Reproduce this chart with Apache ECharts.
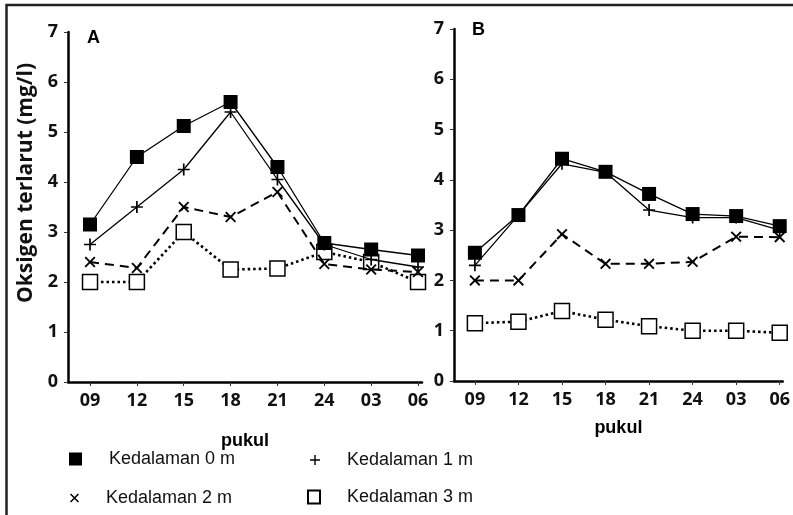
<!DOCTYPE html>
<html>
<head>
<meta charset="utf-8">
<script src="https://cdn.jsdelivr.net/npm/echarts@6/dist/echarts.min.js"></script>
<style>
    html, body { margin: 0; padding: 0; background: #fff; }
    #chart { width: 793px; height: 515px; }
</style>
</head>
<body>
<div id="chart"></div>
<script>
// jam pengamatan
var hours = ['09', '12', '15', '18', '21', '24', '03', '06'];
var yTicks = [0, 1, 2, 3, 4, 5, 6, 7];

// panel A
var k0A = [3.15, 4.5, 5.12, 5.6, 4.3, 2.78, 2.65, 2.53];
var k1A = [2.75, 3.5, 4.25, 5.4, 4.05, 2.75, 2.45, 2.3];
var k2A = [2.4, 2.28, 3.5, 3.3, 3.8, 2.36, 2.25, 2.2];
var k3A = [2.0, 2.0, 3.0, 2.25, 2.27, 2.6, 2.4, 2.0];

// panel B
var k0B = [2.55, 3.3, 4.42, 4.16, 3.72, 3.32, 3.28, 3.08];
var k1B = [2.3, 3.3, 4.32, 4.15, 3.4, 3.25, 3.25, 3.0];
var k2B = [2.0, 2.0, 2.92, 2.33, 2.33, 2.37, 2.87, 2.86];
var k3B = [1.15, 1.18, 1.39, 1.22, 1.09, 1.0, 1.0, 0.96];

var names = ['Kedalaman 0 m', 'Kedalaman 1 m', 'Kedalaman 2 m', 'Kedalaman 3 m'];

var PLUS = 'path://M0,4.3H10V5.7H0Z M4.3,0H5.7V10H4.3Z';
var CROSS = 'path://M0,1.2L1.2,0L10,8.8L8.8,10Z M8.8,0L10,1.2L1.2,10L0,8.8Z';

var idx = hours.map(function (h, i) { return i; });
function pts(arr) {
    return arr.map(function (v, i) { return [i, v]; });
}

var labelFont = { color: '#111', fontFamily: 'Open Sans', fontWeight: 'bold', fontSize: 18 };

function xAx(gi, min, max) {
    return {
        type: 'value', gridIndex: gi, min: min, max: max,
        name: 'pukul', nameLocation: 'middle', nameGap: gi === 0 ? 50 : 38,
        nameTextStyle: { color: '#000', fontFamily: 'Liberation Sans', fontWeight: 'bold', fontSize: 18 },
        axisLine: { onZero: false, lineStyle: { color: '#000', width: 2.5 } },
        axisTick: { show: true, customValues: idx, length: 4, lineStyle: { color: '#333', width: 1 } },
        axisLabel: Object.assign({ customValues: idx, margin: 10, formatter: function (v) { return hours[v]; } }, labelFont),
        splitLine: { show: false }
    };
}
function yAx(gi) {
    return {
        type: 'value', gridIndex: gi, min: 0, max: 7, interval: 1,
        axisLine: { show: true, onZero: false, lineStyle: { color: '#000', width: 2.5 } },
        axisTick: { show: true, length: 4, lineStyle: { color: '#333', width: 1 } },
        axisLabel: Object.assign({ margin: 10 }, labelFont),
        splitLine: { show: false }
    };
}

var styles = [
    { symbol: 'rect', symbolSize: 14, itemStyle: { color: '#000' }, lineStyle: { color: '#000', width: 1.3, type: 'solid' } },
    { symbol: PLUS, symbolSize: 12, itemStyle: { color: '#000' }, lineStyle: { color: '#000', width: 1.3, type: 'solid' } },
    { symbol: CROSS, symbolSize: 11, itemStyle: { color: '#000' }, lineStyle: { color: '#000', width: 2, type: [9, 6] } },
    { symbol: 'rect', symbolSize: 15, itemStyle: { color: '#fff', borderColor: '#000', borderWidth: 1.5 }, lineStyle: { color: '#000', width: 2.6, type: [2.5, 3] } }
];

function mk(name, k, data, gi) {
    var s = styles[k];
    return {
        name: name, type: 'line', xAxisIndex: gi, yAxisIndex: gi,
        data: pts(data), symbol: s.symbol, symbolSize: s.symbolSize,
        itemStyle: s.itemStyle, lineStyle: s.lineStyle,
        z: 10 - k, animation: false
    };
}

var seriesA = [k0A, k1A, k2A, k3A];
var seriesB = [k0B, k1B, k2B, k3B];
var series = [];
// garis titik-titik di bawah, kotak hitam di atas
for (var k = 3; k >= 0; k--) {
    series.push(mk(names[k], k, seriesA[k], 0));
    series.push(mk(names[k], k, seriesB[k], 1));
}

var legendText = { color: '#111', fontFamily: 'Liberation Sans', fontSize: 18, padding: [0, 0, 0, 22] };
function leg(name, icon, left, top, w, h) {
    return {
        left: left, top: top, itemWidth: w, itemHeight: h, selectedMode: false,
        textStyle: legendText,
        data: [{ name: name, icon: icon }]
    };
}

var titleFont = { fontFamily: 'Liberation Sans', fontWeight: 'bold', fontSize: 18, color: '#000' };

var myChart = echarts.init(document.getElementById('chart'), null, { renderer: 'canvas' });
myChart.setOption({
    animation: false,
    backgroundColor: '#fff',
    grid: [
        { left: 68, top: 32, width: 354, height: 350 },
        { left: 454, top: 29, width: 329, height: 352 }
    ],
    xAxis: [xAx(0, -0.47, 7.085), xAx(1, -0.48, 7.07)],
    yAxis: [yAx(0), yAx(1)],
    title: [
        { text: 'A', left: 87, top: 29, padding: 0, textStyle: titleFont },
        { text: 'B', left: 472, top: 21, padding: 0, textStyle: titleFont }
    ],
    legend: [
        leg(names[0], 'rect', 64, 445, 13, 13),
        leg(names[1], PLUS, 305, 446, 10, 10),
        leg(names[2], CROSS, 65, 484, 9, 10),
        leg(names[3], 'rect', 302, 483, 12, 13)
    ],
    graphic: [
        {
            type: 'text', left: 16, top: 63, rotation: Math.PI / 2, originX: 0, originY: 0,
            style: { text: 'Oksigen terlarut (mg/l)', fill: '#111', font: 'bold 21px "Open Sans"' }
        },
        {
            type: 'polyline', silent: true,
            shape: { points: [[6.5, 515], [6.5, 5], [793, 5]] },
            style: { stroke: '#222', lineWidth: 2.5, fill: null }
        }
    ],
    series: series
});
</script>
</body>
</html>
